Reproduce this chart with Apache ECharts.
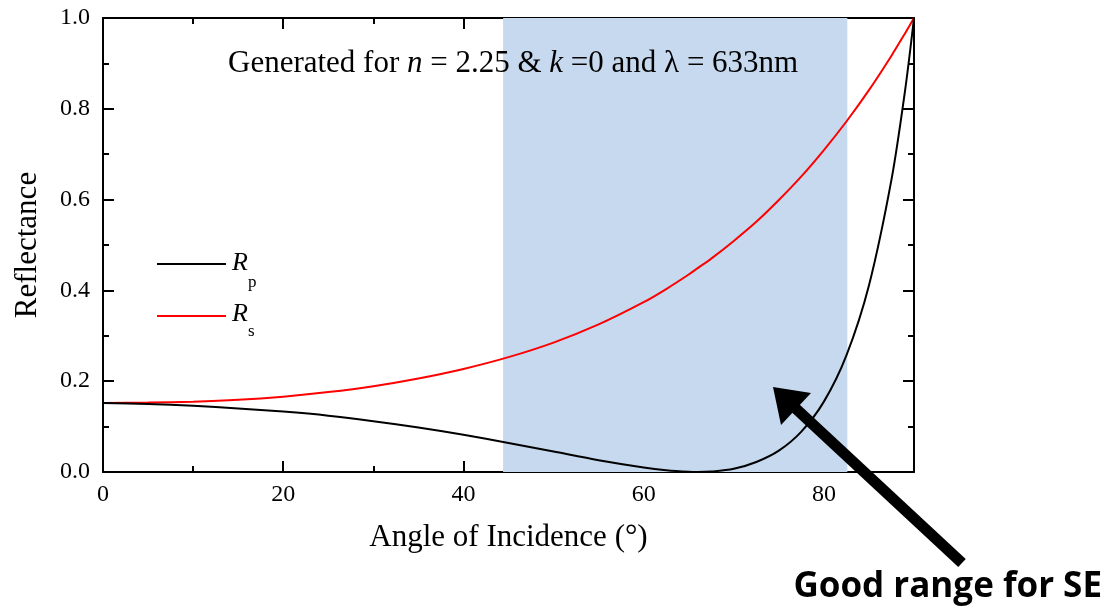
<!DOCTYPE html>
<html>
<head>
<meta charset="utf-8">
<script src="https://cdn.jsdelivr.net/npm/echarts@6/dist/echarts.min.js"></script>
<style>html,body{margin:0;padding:0;background:#fff}#c{width:1110px;height:613px}</style>
</head>
<body>
<div id="c"></div>
<script>
// angle of incidence (degrees)
const angles = [0, 5, 10, 15, 20, 25, 30, 35, 40, 45, 50, 55, 60, 62.5, 65, 66, 67.5, 70, 72.5, 75, 77.5, 80, 82.5, 85, 87.5, 89, 90];
// reflectance values
const Rp = [0.152, 0.150, 0.146, 0.140, 0.133, 0.124, 0.112, 0.098, 0.082, 0.064, 0.045, 0.026, 0.010, 0.004, 0.0004, 0.0, 0.001, 0.007, 0.022, 0.047, 0.089, 0.155, 0.257, 0.411, 0.644, 0.839, 1.0];
const Rs = [0.152, 0.153, 0.155, 0.159, 0.166, 0.176, 0.189, 0.206, 0.227, 0.253, 0.285, 0.325, 0.374, 0.403, 0.435, 0.449, 0.470, 0.509, 0.551, 0.599, 0.651, 0.709, 0.772, 0.841, 0.917, 0.966, 1.0];
const shadeRange = [44.4, 82.6];
const xTicks = [0, 20, 40, 60, 80];
const yTicks = ['0.0', '0.2', '0.4', '0.6', '0.8', '1.0'];

const serif = 'Liberation Serif';
const chart = echarts.init(document.getElementById('c'), null, {renderer: 'canvas'});
const pts = a => angles.map((x, i) => [x, a[i]]);

const axisCommon = {
  min: 0,
  axisLine: {show: true, onZero: false, lineStyle: {color: '#000', width: 2}},
  axisTick: {show: true, inside: true, length: 11, lineStyle: {color: '#000', width: 2}},
  minorTick: {show: true, splitNumber: 2, length: 6, lineStyle: {color: '#000', width: 2}},
  splitLine: {show: false},
  minorSplitLine: {show: false}
};

chart.setOption({
  animation: false,
  backgroundColor: '#fff',
  grid: {left: 103, right: 196, top: 18, bottom: 141, containLabel: false, outerBoundsMode: 'none'},
  xAxis: [
    Object.assign({}, axisCommon, {
      type: 'value', max: 90, interval: 20, position: 'bottom',
      name: 'Angle of Incidence (°)', nameLocation: 'middle', nameGap: 50,
      nameTextStyle: {fontFamily: serif, fontSize: 31, color: '#000'},
      axisLabel: {show: true, margin: 11, fontFamily: serif, fontSize: 24, color: '#000',
        showMaxLabel: false, formatter: v => xTicks.indexOf(v) >= 0 ? String(v) : ''}
    }),
    Object.assign({}, axisCommon, {
      type: 'value', max: 90, interval: 20, position: 'top',
      axisLabel: {show: false}
    })
  ],
  yAxis: [
    Object.assign({}, axisCommon, {
      type: 'value', max: 1, interval: 0.2, position: 'left',
      name: 'Reflectance', nameLocation: 'middle', nameGap: 60,
      nameTextStyle: {fontFamily: serif, fontSize: 31, color: '#000'},
      axisLabel: {show: true, margin: 13, fontFamily: serif, fontSize: 24, color: '#000',
        formatter: v => yTicks[Math.round(v * 5)]}
    }),
    Object.assign({}, axisCommon, {
      type: 'value', max: 1, interval: 0.2, position: 'right',
      axisLabel: {show: false}
    })
  ],
  series: [
    {
      name: 'Rs', type: 'line', data: pts(Rs), smooth: 0.3, showSymbol: false,
      lineStyle: {color: '#ff0000', width: 2}, z: 3,
      markArea: {
        silent: true,
        itemStyle: {color: '#c6d9ef', opacity: 1},
        data: [[{xAxis: shadeRange[0]}, {xAxis: shadeRange[1]}]]
      }
    },
    {
      name: 'Rp', type: 'line', data: pts(Rp), smooth: 0.3, showSymbol: false,
      lineStyle: {color: '#000', width: 2}, z: 4
    }
  ],
  graphic: [
    {type: 'text', x: 228, y: 48, z: 10, style: {
      text: '{a|Generated for }{i|n}{a| = 2.25 & }{i|k}{a| =0 and λ = 633nm}',
      rich: {
        a: {fontFamily: serif, fontSize: 31, fill: '#000'},
        i: {fontFamily: serif, fontSize: 31, fontStyle: 'italic', fill: '#000'}
      }
    }},
    {type: 'line', z: 10, shape: {x1: 157, y1: 264, x2: 226, y2: 264}, style: {stroke: '#000', lineWidth: 2}},
    {type: 'line', z: 10, shape: {x1: 157, y1: 316, x2: 226, y2: 316}, style: {stroke: '#ff0000', lineWidth: 2}},
    {type: 'text', x: 232, y: 250, z: 10, style: {text: 'R', fontFamily: serif, fontSize: 26, fontStyle: 'italic', fill: '#000'}},
    {type: 'text', x: 248, y: 274, z: 10, style: {text: 'p', fontFamily: serif, fontSize: 17, fill: '#000'}},
    {type: 'text', x: 232, y: 301, z: 10, style: {text: 'R', fontFamily: serif, fontSize: 26, fontStyle: 'italic', fill: '#000'}},
    {type: 'text', x: 248, y: 323, z: 10, style: {text: 's', fontFamily: serif, fontSize: 17, fill: '#000'}},
    {type: 'line', z: 10, shape: {x1: 962, y1: 563, x2: 792, y2: 405}, style: {stroke: '#000', lineWidth: 11}},
    {type: 'polygon', z: 10, shape: {points: [[773, 387], [781, 425], [811, 393]]}, style: {fill: '#000'}},
    {type: 'text', right: 8, top: 570, z: 10, style: {
      text: 'Good range for SE', fontFamily: 'Open Sans', fontWeight: 'bold', fontSize: 35, fill: '#000'
    }}
  ]
});
</script>
</body>
</html>
